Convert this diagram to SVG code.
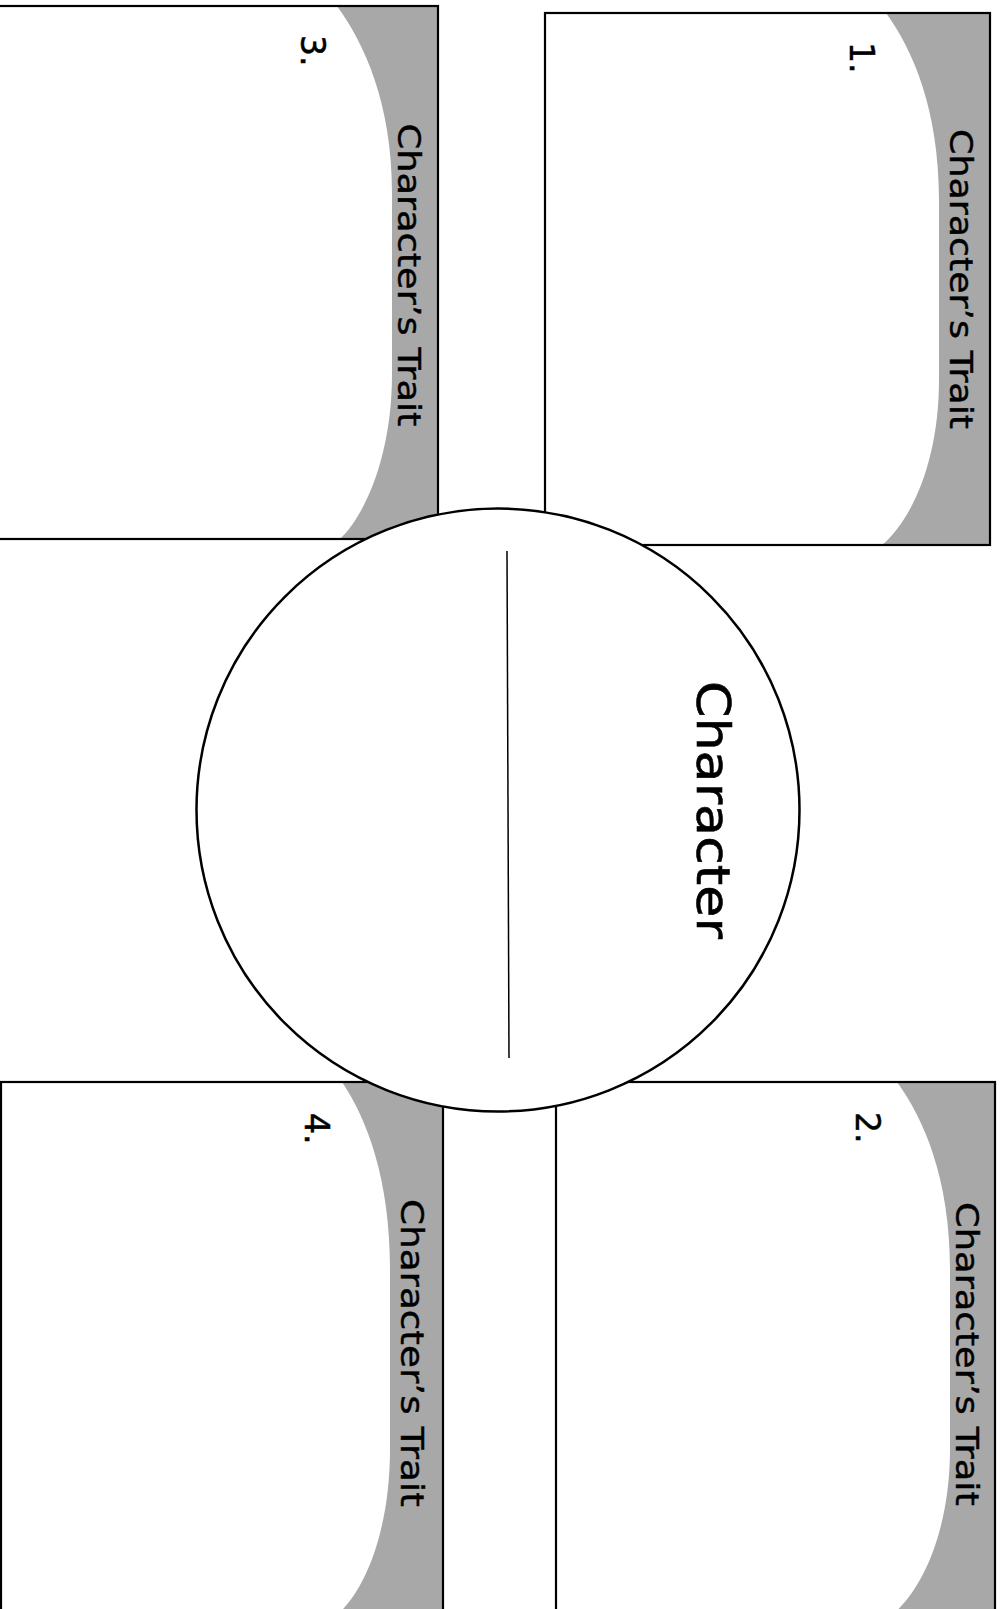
<svg xmlns="http://www.w3.org/2000/svg" width="1002" height="1609" viewBox="0 0 1002 1609">
<style>
.bg{fill:#ffffff;stroke:none}
.edge{fill:none;stroke:#000;stroke-width:2.2}
.band{fill:#a8a8a8;stroke:none}
.lbl{font-family:"DejaVu Sans","Liberation Sans",sans-serif;font-size:32px;fill:#000;stroke:#000;stroke-width:0.4}
.num{font-family:"DejaVu Sans","Liberation Sans",sans-serif;font-size:33px;fill:#000;stroke:#000;stroke-width:0.5}
.title{font-family:"DejaVu Sans","Liberation Sans",sans-serif;font-size:46px;fill:#000;stroke:#000;stroke-width:0.6}
</style>
<rect x="0" y="0" width="1002" height="1609" fill="#ffffff"/>
<g id="trait1">
<rect class="bg" x="545" y="13" width="445" height="532"/>
<path class="band" d="M886 13 C913 50 939 110 939 200 L939 380 C939 460 912 520 882 545 L990 545 L990 13 Z"/>
<rect class="edge" x="545" y="13" width="445" height="532"/>
<text class="lbl" transform="translate(950,279) rotate(90)" text-anchor="middle" textLength="300" lengthAdjust="spacingAndGlyphs">Character’s Trait</text>
<text class="num" transform="translate(850,42) rotate(90)">1.</text>
</g>
<g id="trait2">
<rect class="bg" x="556" y="1082" width="439" height="532"/>
<path class="band" d="M897 1082 C924 1119 950 1179 950 1269 L950 1449 C950 1529 923 1589 893 1614 L995 1614 L995 1082 Z"/>
<rect class="edge" x="556" y="1082" width="439" height="532"/>
<text class="lbl" transform="translate(956,1354) rotate(90)" text-anchor="middle" textLength="304" lengthAdjust="spacingAndGlyphs">Character’s Trait</text>
<text class="num" transform="translate(856,1112) rotate(90)">2.</text>
</g>
<g id="trait3">
<rect class="bg" x="-5" y="6" width="443" height="533"/>
<path class="band" d="M337 6 C364 43 392 103 392 193 L392 374 C392 454 366 514 340 539 L438 539 L438 6 Z"/>
<rect class="edge" x="-5" y="6" width="443" height="533"/>
<text class="lbl" transform="translate(398,275) rotate(90)" text-anchor="middle" textLength="303" lengthAdjust="spacingAndGlyphs">Character’s Trait</text>
<text class="num" transform="translate(301,35) rotate(90)">3.</text>
</g>
<g id="trait4">
<rect class="bg" x="1" y="1082" width="442" height="532"/>
<path class="band" d="M342 1082 C367 1119 390 1179 390 1269 L390 1449 C390 1529 366 1589 338 1614 L443 1614 L443 1082 Z"/>
<rect class="edge" x="1" y="1082" width="442" height="532"/>
<text class="lbl" transform="translate(401,1353) rotate(90)" text-anchor="middle" textLength="308" lengthAdjust="spacingAndGlyphs">Character’s Trait</text>
<text class="num" transform="translate(305,1113) rotate(90)">4.</text>
</g>
<g id="connectors"></g>
<g id="character">
<circle cx="498" cy="810" r="301.5" fill="#ffffff" stroke="#000" stroke-width="2.5"/>
<line x1="507" y1="551" x2="509" y2="1058" stroke="#000" stroke-width="1.5"/>
<text class="title" transform="translate(697,810) rotate(90)" text-anchor="middle" textLength="258" lengthAdjust="spacingAndGlyphs">Character</text>
</g>
</svg>
